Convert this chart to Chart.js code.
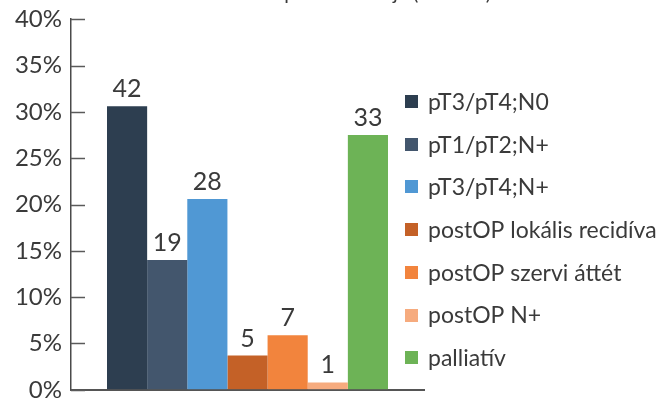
<!DOCTYPE html>
<html>
<head>
<meta charset="utf-8">
<script src="https://cdn.jsdelivr.net/npm/chart.js@4/dist/chart.umd.min.js"></script>
<style>
html,body{margin:0;padding:0;background:#fff;overflow:hidden;}
#wrap{position:relative;width:669px;height:400px;overflow:hidden;}
</style>
</head>
<body>
<div id="wrap"><canvas id="c" width="669" height="409"></canvas></div>
<script>
const chartTitle = 'Kemoterápia indikációja (n = 135)';
const categories = ['pT3/pT4;N0', 'pT1/pT2;N+', 'pT3/pT4;N+', 'postOP lokális recidíva', 'postOP szervi áttét', 'postOP N+', 'palliatív'];
const counts = [42, 19, 28, 5, 7, 1, 33];
const percents = [30.6, 14.0, 20.6, 3.7, 5.9, 0.8, 27.5];
const colors = ['#2d3e50', '#43566d', '#5098d4', '#c46127', '#f2843d', '#f6ab7e', '#6db356'];
const yTicks = [0, 5, 10, 15, 20, 25, 30, 35, 40];

const FONT = 'Lato, "Open Sans", sans-serif';
const TEXT = '#3a3a3a';

const datasets = categories.map((name, i) => ({
  label: name,
  data: [percents[i]],
  backgroundColor: colors[i],
  borderWidth: 0,
  categoryPercentage: 0.796,
  barPercentage: 1.0
}));

const overlay = {
  id: 'overlay',
  afterDraw(chart) {
    const ctx = chart.ctx;
    const area = chart.chartArea;
    const ys = chart.scales.y;
    ctx.save();
    // inward tick marks
    ctx.strokeStyle = '#5a5a5a';
    ctx.lineWidth = 1.5;
    yTicks.forEach(v => {
      const py = Math.round(ys.getPixelForValue(v)) + 0.5;
      ctx.beginPath();
      ctx.moveTo(area.left, py);
      ctx.lineTo(area.left + 14, py);
      ctx.stroke();
    });
    // value labels
    ctx.fillStyle = TEXT;
    ctx.font = '25px ' + FONT;
    ctx.textAlign = 'center';
    ctx.textBaseline = 'alphabetic';
    chart.data.datasets.forEach((ds, i) => {
      const bar = chart.getDatasetMeta(i).data[0];
      ctx.fillText(String(counts[i]), bar.x, bar.y - 9);
    });
    // legend
    ctx.font = '23px ' + FONT;
    ctx.textAlign = 'left';
    ctx.textBaseline = 'middle';
    categories.forEach((name, i) => {
      const cy = 101.5 + i * 42.7;
      ctx.fillStyle = colors[i];
      ctx.fillRect(405, Math.round(cy - 6.5), 13, 13);
      ctx.fillStyle = TEXT;
      ctx.fillText(name, 428, cy + 1);
    });
    // title (cut off at top, as in the reference)
    ctx.font = '20px ' + FONT;
    ctx.textAlign = 'center';
    ctx.textBaseline = 'alphabetic';
    ctx.fillStyle = TEXT;
    ctx.fillText(chartTitle, 345, 0);
    ctx.restore();
  }
};

new Chart(document.getElementById('c'), {
  type: 'bar',
  data: { labels: [''], datasets },
  options: {
    responsive: false,
    animation: false,
    layout: { padding: { left: 0, right: 245, top: 16.5, bottom: 0 } },
    plugins: { legend: { display: false }, title: { display: false }, tooltip: { enabled: false } },
    scales: {
      x: {
        grid: { display: false, drawTicks: false },
        border: { display: true, color: '#555', width: 2 },
        ticks: { display: false },
        afterFit(s) { s.height = 0; }
      },
      y: {
        min: 0, max: 40,
        grid: { drawOnChartArea: false, drawTicks: false },
        border: { display: true, color: '#4a4a4a', width: 1.5 },
        ticks: {
          stepSize: 5,
          padding: 9,
          color: TEXT,
          font: { family: FONT, size: 24, lineHeight: 0.85 },
          callback: v => v + '%'
        },
        afterFit(s) { s.width = 71; }
      }
    }
  },
  plugins: [overlay]
});
</script>
</body>
</html>
